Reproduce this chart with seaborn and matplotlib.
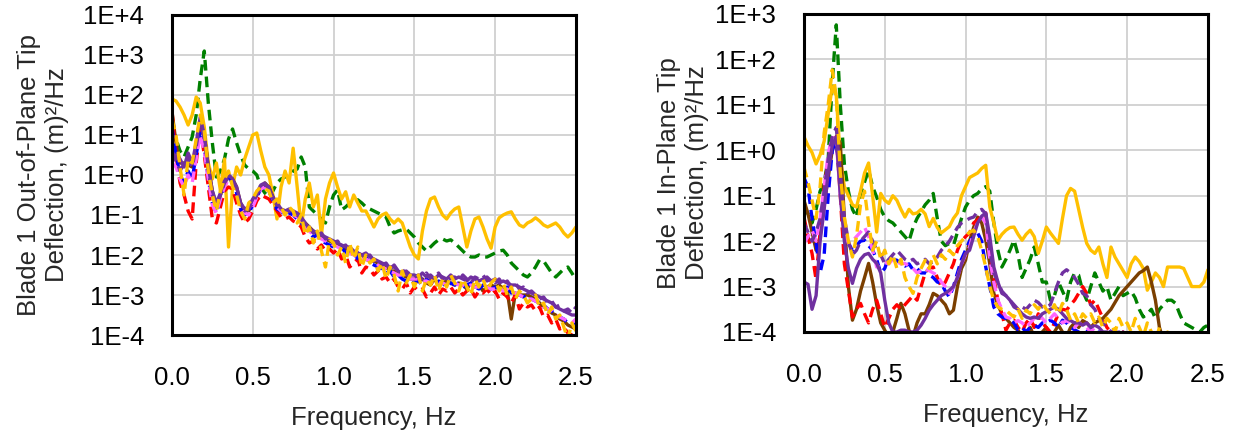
import numpy as np
import matplotlib
matplotlib.use("Agg")
import matplotlib.pyplot as plt
import seaborn as sns
from matplotlib.ticker import FixedLocator, FuncFormatter, NullLocator

nan = float("nan")

# ---------------- data (PSD values stored as log10 exponents) ----------------
freq_hz = [round(0.025 * i, 3) for i in range(101)]
x_ticks = [0.0, 0.5, 1.0, 1.5, 2.0, 2.5]

# ----- Out-of-plane (left panel) -----
oop_red_dash = [
    1.6, 0.5, -0.2, -0.5, -0.9, -1.1, 0.3, 1.2, 0.5, -0.3,
    -1.1, -1.2, -0.8, -0.4, -0.3, -0.35, -0.7, -1.0, -1.2, -1.1,
    -0.9, -0.65, -0.5, -0.55, -0.6, -0.75, -0.9, -1.05, -1.1, -1.05,
    -1.15, -1.2, -1.3, -1.55, -1.7, -1.65, -1.85, -1.75, -1.9, -1.85,
    -1.95, -1.85, -2.1, -2.0, -2.3, -2.2, -2.1, -2.45, -2.3, -2.35,
    -2.5, -2.4, -2.6, -2.55, -2.7, -2.6, -2.8, -2.85, -2.7, -2.95,
    -2.8, -2.9, -2.85, -3.05, -2.95, -2.8, -3.0, -2.85, -2.9, -2.8,
    -2.95, -2.85, -3.0, -2.9, -2.85, -3.05, -2.9, -2.95, -2.85, -3.0,
    -2.9, -3.1, -2.95, -3.05, -3.2, -3.0, -3.35, -3.2, -3.3, -3.25,
    -3.4, -3.3, -3.55, -3.5, -3.7, -3.6, -3.85, -3.8, -3.95, -4.0,
    -4.1]
oop_blue_dash = [
    1.2, 0.5, 0.0, -0.2, 0.1, -0.1, 0.5, 1.1, 0.7, -0.1,
    -0.7, -0.95, -0.6, -0.25, -0.05, -0.2, -0.45, -0.85, -1.0, -0.95,
    -0.75, -0.55, -0.35, -0.3, -0.4, -0.65, -0.85, -0.9, -1.0, -0.95,
    -1.0, -1.1, -1.2, -1.3, -1.45, -1.55, -1.5, -1.65, -1.7, -1.75,
    -1.8, -1.85, -1.8, -1.95, -2.0, -1.95, -2.1, -2.2, -2.05, -2.2,
    -2.25, -2.3, -2.35, -2.45, -2.4, -2.55, -2.5, -2.6, -2.65, -2.6,
    -2.7, -2.65, -2.75, -2.6, -2.7, -2.75, -2.65, -2.7, -2.8, -2.7,
    -2.75, -2.7, -2.8, -2.75, -2.7, -2.8, -2.85, -2.75, -2.8, -2.85,
    -2.8, -2.85, -2.9, -2.8, -2.95, -2.9, -3.0, -3.05, -3.0, -3.1,
    -3.15, -3.2, -3.25, -3.35, -3.4, -3.5, -3.55, -3.6, -3.7, -3.7,
    -3.75]
oop_green_dash = [
    1.2, 0.9, 0.6, 0.45, 0.7, 0.95, 1.5, 2.4, 3.1, 1.8,
    0.8, -0.05, 0.1, 0.4, 0.9, 1.15, 0.8, 0.5, 0.25, 0.15,
    0.1, 0.0, -0.3, -0.45, -0.55, -0.4, -0.2, -0.1, -0.05, 0.0,
    0.1, 0.15, 0.45, 0.2, -0.8, -0.9, -1.0, -1.1, -1.2, -0.8,
    -0.5, -0.37, -0.87, -0.8, -0.7, -0.65, -0.62, -0.7, -0.8, -0.85,
    -0.9, -0.95, -1.0, -1.05, -1.3, -1.45, -1.4, -1.37, -1.35, -1.45,
    -1.55, -1.7, -1.8, -1.9, -1.8, -1.7, -1.62, -1.6, -1.65, -1.62,
    -1.7, -1.8, -1.9, -2.0, -2.05, -2.05, -2.0, -2.05, -2.05, -2.0,
    -1.95, -1.9, -1.88, -2.0, -2.2, -2.3, -2.4, -2.5, -2.55, -2.45,
    -2.3, -2.12, -2.15, -2.3, -2.45, -2.55, -2.45, -2.35, -2.3, -2.45,
    -2.62]
oop_gold_solid = [
    1.9, 1.85, 1.7, 1.5, 1.25, 1.5, 1.95, 1.8, 1.2, 0.3,
    -0.1, 0.3, -0.4, 0.4, -1.8, -0.3, 0.2, 0.0, 0.4, 0.7,
    1.0, 1.05, 0.6, 0.2, 0.0, -0.5, -1.1, -0.3, 0.1, -0.2,
    0.67, -0.3, -1.3, -0.6, -0.2, -0.8, -0.5, -1.5, -0.6, -0.2,
    0.05, -0.3, -0.6, -0.42, -0.8, -0.5, -0.7, -0.9, -0.9, -1.1,
    -1.3, -1.1, -1.0, -0.95, -1.1, -1.2, -1.1, -1.2, -1.5, -1.8,
    -2.0, -2.1, -1.4, -0.9, -0.6, -0.55, -0.8, -1.0, -1.1, -0.95,
    -0.85, -0.8, -1.3, -1.8, -1.4, -1.1, -1.05, -1.3, -1.6, -1.83,
    -1.3, -1.07, -1.0, -0.95, -0.92, -1.1, -1.25, -1.3, -1.2, -1.15,
    -1.07, -1.15, -1.25, -1.3, -1.25, -1.2, -1.3, -1.45, -1.55, -1.45,
    -1.3]
oop_gold_dash = [
    1.4, 1.0, 0.2, -0.5, 0.4, 0.3, 0.9, 1.5, 1.1, 0.1,
    -0.5, -0.9, -0.4, -0.1, 0.1, -0.3, -0.5, -0.9, -1.1, -0.7,
    -0.6, -0.4, -0.3, -0.35, -0.4, -0.7, -0.6, -0.8, -1.0, -0.8,
    -0.9, -1.2, -1.0, -1.5, -1.3, -1.7, -1.4, -1.9, -2.3, -1.6,
    -1.7, -2.0, -1.8, -2.2, -1.7, -2.1, -1.8, -2.3, -2.0, -2.2,
    -2.1, -2.4, -2.2, -2.6, -2.3, -2.5, -2.9, -2.4, -2.7, -2.5,
    -2.8, -2.5, -2.9, -2.6, -2.75, -2.5, -2.9, -2.6, -2.8, -2.5,
    -2.7, -2.9, -2.6, -2.8, -3.0, -2.6, -2.8, -2.6, -2.9, -2.7,
    -2.6, -2.9, -2.7, -3.0, -2.8, -3.1, -2.9, -3.0, -3.2, -3.1,
    -3.0, -3.3, -3.2, -3.5, -3.3, -3.6, -3.5, -3.8, -4.1, -3.7,
    -3.9]
oop_brown_solid = [
    1.6, 0.8, 0.3, 0.3, 0.25, 0.2, 0.7, 1.3, 1.0, 0.2,
    -0.4, -0.8, -0.5, -0.2, 0.0, -0.1, -0.3, -0.7, -0.9, -0.9,
    -0.7, -0.5, -0.3, -0.2, -0.3, -0.55, -0.75, -0.85, -0.9, -0.9,
    -0.9, -1.0, -1.1, -1.2, -1.3, -1.4, -1.5, -1.55, -1.6, -1.65,
    -1.7, -1.75, -1.8, -1.85, -1.85, -1.95, -2.0, -2.0, -2.1, -2.15,
    -2.15, -2.2, -2.25, -2.3, -2.4, -2.4, -2.5, -2.5, -2.55, -2.6,
    -2.6, -2.65, -2.6, -2.7, -2.75, -2.6, -2.75, -2.7, -2.65, -2.7,
    -2.75, -2.7, -2.75, -2.85, -2.7, -2.8, -2.75, -2.9, -2.8, -2.75,
    -2.8, -2.75, -2.85, -2.9, -3.6, -2.95, -3.0, -3.0, -3.0, -3.05,
    -3.1, -3.2, -3.3, -3.35, -3.45, -3.5, -3.6, -3.65, -3.75, -3.8,
    -3.85]
oop_purple_solid = [
    0.3, 0.5, 0.4, 0.2, 0.55, 0.3, 0.8, 1.45, 1.0, 0.2,
    -0.4, -0.7, -0.45, -0.15, 0.0, -0.1, -0.3, -0.7, -0.85, -0.8,
    -0.6, -0.45, -0.25, -0.2, -0.35, -0.55, -0.7, -0.85, -0.9, -0.85,
    -0.9, -0.95, -1.05, -1.2, -1.35, -1.4, -1.45, -1.5, -1.55, -1.6,
    -1.65, -1.7, -1.75, -1.8, -1.8, -1.9, -1.95, -2.0, -1.95, -2.05,
    -2.1, -2.15, -2.2, -2.25, -2.3, -2.3, -2.4, -2.45, -2.4, -2.5,
    -2.5, -2.55, -2.45, -2.55, -2.5, -2.6, -2.5, -2.55, -2.6, -2.5,
    -2.6, -2.55, -2.6, -2.65, -2.55, -2.6, -2.65, -2.6, -2.55, -2.65,
    -2.6, -2.7, -2.65, -2.7, -2.75, -2.75, -2.8, -2.85, -2.9, -2.95,
    -3.0, -3.05, -3.1, -3.15, -3.2, -3.3, -3.35, -3.4, -3.45, -3.5,
    -3.5]
oop_purple_dash = [
    0.6, 0.4, 0.1, 0.3, 0.4, 0.2, 0.7, 1.35, 0.9, 0.1,
    -0.5, -0.8, -0.5, -0.2, -0.05, -0.15, -0.35, -0.75, -0.9, -0.85,
    -0.7, -0.5, -0.3, -0.25, -0.3, -0.6, -0.75, -0.8, -0.95, -0.9,
    -0.95, -1.0, -1.1, -1.25, -1.3, -1.45, -1.5, -1.45, -1.6, -1.55,
    -1.7, -1.65, -1.8, -1.75, -1.9, -1.85, -1.95, -2.0, -2.05, -2.0,
    -2.15, -2.1, -2.25, -2.2, -2.35, -2.25, -2.4, -2.35, -2.5, -2.45,
    -2.55, -2.5, -2.6, -2.45, -2.6, -2.55, -2.45, -2.6, -2.5, -2.6,
    -2.55, -2.65, -2.5, -2.6, -2.7, -2.55, -2.6, -2.5, -2.65, -2.6,
    -2.7, -2.6, -2.75, -2.65, -2.8, -2.7, -2.85, -2.8, -2.95, -2.9,
    -3.0, -3.1, -3.05, -3.2, -3.15, -3.3, -3.25, -3.4, -3.35, -3.45,
    -3.3]
oop_pink_dash = [
    0.3, 0.2, -0.1, -0.3, 0.0, -0.2, 0.4, 1.0, 0.6, -0.1,
    -0.75, -0.95, -0.6, -0.3, -0.1, -0.15, -0.45, -0.85, -0.95, -1.0,
    -0.8, -0.55, -0.35, -0.3, -0.35, -0.6, -0.8, -0.9, -0.95, -0.95,
    -1.0, -1.05, -1.15, -1.3, -1.4, -1.5, -1.55, -1.6, -1.65, -1.7,
    -1.75, -1.8, -1.85, -1.9, -1.95, -2.0, -2.05, -2.1, -2.1, -2.15,
    -2.2, -2.25, -2.3, -2.35, -2.4, -2.45, -2.5, -2.5, -2.55, -2.6,
    -2.6, -2.6, -2.65, -2.65, -2.7, -2.65, -2.7, -2.7, -2.75, -2.7,
    -2.7, -2.75, -2.75, -2.8, -2.75, -2.8, -2.8, -2.85, -2.8, -2.85,
    -2.85, -2.8, -2.9, -2.85, -2.95, -2.95, -3.0, -3.05, -3.1, -3.1,
    -3.15, -3.2, -3.3, -3.35, -3.4, -3.5, -3.55, -3.6, -3.65, -3.7,
    -3.6]

# ----- In-plane (right panel) -----
ip_red_dash = [
    -1.47, -1.9, -2.27, -2.85, -1.8, -0.8, -0.22, 0.1, 0.3, -1.0,
    -2.5, -3.08, -3.67, -3.5, -3.37, -3.6, -3.8, -3.5, -3.3, -3.6,
    -3.9, -3.7, -3.5, -3.4, -3.5, -3.4, -3.3, -3.2, -3.3, -3.0,
    -2.7, -2.6, -2.57, -2.8, -3.0, -2.9, -2.7, -2.5, -2.2, -2.0,
    -1.9, -1.82, -1.6, -1.53, -1.45, -1.38, -2.27, -2.8, -3.3, -3.6,
    -3.96, -3.8, -3.74, -3.9, -4.0, -3.8, -3.7, -3.9, -3.6, -3.8,
    -3.9, -4.0, -3.8, -3.6, -3.5, -3.52, -3.4, -3.3, -3.15, -3.0,
    -3.15, -3.4, -3.3, -3.5, -3.7, -3.9, -4.0, -4.1, -4.2, -4.0,
    -4.2, -4.3, -4.2, -4.4, -4.3, -4.4, -4.5, -4.4, -4.5, -4.5,
    -4.5, -4.5, -4.5, -4.5, -4.5, -4.5, -4.5, -4.5, -4.5, -4.5,
    -4.5]
ip_blue_dash = [
    -0.6, -0.82, -1.5, -2.05, -2.7, -2.3, -1.0, 0.0, 0.22, -0.8,
    -1.6, -2.05, -2.2, -2.1, -2.0, -1.98, -2.1, -2.2, -2.4, -2.7,
    -2.6, -2.35, -2.4, -2.42, -2.5, -2.55, -2.5, -2.63, -2.6, -2.7,
    -2.7, -2.75, -2.8, -2.9, -2.93, -3.1, -3.23, -3.0, -2.7, -2.4,
    -2.2, -2.0, -1.9, -1.82, -2.0, -2.57, -3.0, -3.45, -3.6, -3.67,
    -3.7, -3.74, -3.8, -3.96, -3.9, -4.0, -3.9, -3.85, -3.9, -3.8,
    -3.8, -3.74, -3.8, -3.9, -3.74, -3.8, -3.9, -3.95, -4.0, -4.1,
    -4.0, -3.9, -4.1, -4.0, -4.2, -4.1, -4.2, -4.3, -4.2, -4.3,
    -4.3, -4.4, -4.3, -4.4, -4.5, -4.4, -4.5, -4.5, -4.5, -4.5,
    -4.5, -4.5, -4.5, -4.5, -4.5, -4.5, -4.5, -4.5, -4.5, -4.5,
    -4.5]
ip_green_dash = [
    -1.2, -1.4, -1.6, -1.3, -0.9, -0.7, -0.2, 1.5, 2.76, 1.0,
    -0.3, -0.9, -1.3, -1.47, -0.95, -0.7, -0.44, -0.8, -1.03, -1.3,
    -1.47, -1.55, -1.6, -1.7, -1.8, -1.9, -2.0, -1.7, -1.5, -1.35,
    -1.2, -1.1, -0.95, -1.5, -2.0, -2.1, -2.05, -2.1, -1.8, -1.5,
    -1.25, -1.1, -1.0, -0.95, -0.85, -0.8, -0.9, -1.6, -2.2, -2.57,
    -2.4, -2.2, -1.98, -2.3, -2.8, -2.6, -2.4, -2.13, -2.5, -2.9,
    -2.9, -3.3, -3.2, -2.9, -3.1, -3.3, -2.9, -2.7, -2.75, -3.1,
    -3.3, -3.0, -2.7, -2.9, -3.1, -3.0, -3.3, -3.15, -3.0, -3.2,
    -3.15, -3.1, -3.25, -3.5, -3.67, -3.6, -3.5, -3.7, -3.5, -3.4,
    -3.3, -3.3, -3.37, -3.6, -3.8, -3.85, -3.9, -3.95, -4.0, -3.9,
    -3.85]
ip_gold_solid = [
    0.3, 0.1, -0.05, -0.3, -0.1, 0.2, 0.8, 1.4, 1.2, -0.2,
    -0.8, -1.0, -1.2, -1.25, -0.9, -0.5, -0.28, -1.0, -1.8, -0.95,
    -1.1, -1.17, -1.0, -1.1, -1.3, -1.47, -1.3, -1.4, -1.38, -1.3,
    -1.4, -1.68, -1.5, -1.7, -1.82, -1.75, -1.68, -1.5, -1.38, -1.0,
    -0.8, -0.6, -0.55, -0.5, -0.4, -0.33, -1.25, -1.6, -1.98, -1.85,
    -1.76, -1.7, -1.69, -1.85, -1.98, -1.85, -1.76, -1.9, -2.27, -2.0,
    -1.69, -1.82, nan, -2.05, -1.5, -1.0, -0.84, -0.9, -1.3, -1.7,
    -2.05, -2.2, -2.27, -2.13, -2.5, -2.8, -2.13, -2.35, nan, nan,
    -2.8, -2.5, -2.35, -2.45, -2.6, -3.08, -2.9, -2.7, -2.8, -3.0,
    -2.57, -2.57, -2.57, -2.57, -2.6, -2.8, -3.0, -3.0, -3.0, -2.9,
    -2.63]
ip_gold_dash = [
    -0.37, -0.7, -1.1, -1.5, -0.8, 0.38, 1.0, 1.77, 1.2, -0.5,
    -1.47, -2.0, -2.35, -1.9, -1.2, -0.9, -1.6, -2.2, -2.0, -2.4,
    -2.2, -2.5, -2.3, -2.6, -2.4, -2.8, -3.0, -3.15, -2.8, -2.6,
    -2.42, -2.6, -2.3, -2.5, -2.3, -2.4, -2.2, -2.3, -2.1, -2.0,
    -1.9, -1.8, -1.76, -1.9, -2.2, -2.57, -3.0, -3.3, -3.45, -3.5,
    -3.52, -3.6, -3.67, -3.5, -3.7, -3.52, -3.6, -3.4, -3.5, -3.37,
    -3.5, -3.6, -3.4, -3.6, -3.37, -3.5, -3.74, -3.6, -3.8, -3.6,
    -3.7, -3.6, -3.8, -3.67, -3.9, -3.7, -3.8, -4.0, -3.7, -3.9,
    -3.8, -4.0, -3.7, -3.9, -4.1, -3.8, -4.0, -4.2, -3.9, -4.1,
    -4.0, -4.2, -4.1, -4.3, -4.2, -4.4, -4.3, -4.5, -4.4, -4.5,
    -4.5]
ip_brown_solid = [
    -1.1, -1.4, -1.8, -2.2, -1.9, -1.2, -0.6, 0.0, 0.3, 0.16,
    -1.5, -3.0, -3.74, -3.5, -3.1, -2.8, -2.49, -2.9, -3.4, -3.8,
    -3.96, -4.1, -4.0, -3.7, -3.37, -3.6, -3.96, -4.1, -3.8, -3.6,
    -3.6, -3.4, -3.15, -3.2, -3.3, -3.4, -3.6, -3.52, -3.0, -2.6,
    -2.42, -2.0, -1.7, -1.47, -1.6, -1.98, -2.5, -3.15, -3.4, -3.6,
    -3.7, -3.8, -3.9, -3.96, -4.1, -4.0, -3.9, -4.1, -4.2, -4.0,
    -3.9, -4.1, -4.0, -3.85, -4.0, -4.1, -3.9, -3.8, -3.9, -3.75,
    -3.8, -3.9, -3.8, -3.75, -3.7, -3.6, -3.5, -3.35, -3.2, -3.1,
    -3.0, -2.9, -2.8, -2.7, -2.65, -2.57, -2.9, -3.3, -3.9, -4.2,
    -4.3, -4.2, -4.4, -4.3, -4.5, -4.4, -4.3, -4.5, -4.4, -4.5,
    -4.5]
ip_purple_solid = [
    -2.9, -2.95, -3.5, -3.2, -2.0, -1.3, -0.5, 0.1, 0.3, -1.0,
    -2.0, -2.6, -2.93, -2.6, -2.4, -2.3, -2.27, -2.4, -2.49, -2.7,
    -3.3, -3.8, -4.0, -4.0, -3.96, -3.96, -4.0, -4.0, -3.96, -3.85,
    -3.7, -3.52, -3.4, -3.3, -3.2, -3.15, -3.08, -3.0, -2.8, -2.5,
    -2.27, -2.2, -1.9, -1.6, -1.45, -1.38, -1.9, -2.57, -2.9, -3.15,
    -3.2, -3.3, -3.45, -3.5, -3.6, -3.67, -3.7, -3.67, -3.7, -3.6,
    -3.55, -3.5, -3.45, -3.5, -3.6, -3.7, -3.75, -3.8, -3.8, -3.85,
    -3.8, -3.9, -3.85, -3.9, -4.0, -4.0, -4.05, -4.1, -4.0, -4.1,
    -4.2, -4.1, -4.2, -4.3, -4.2, -4.3, -4.2, -4.3, -4.4, -4.3,
    -4.3, -4.4, -4.3, -4.4, -4.5, -4.4, -4.5, -4.4, -4.5, -4.5,
    -4.5]
ip_purple_dash = [
    -1.6, -1.8, -2.0, -1.8, -1.5, -0.9, -0.2, 0.3, 0.5, -0.5,
    -1.5, -2.0, -2.3, -2.2, -2.0, -1.9, -1.8, -2.0, -2.2, -2.3,
    -2.5, -2.4, -2.3, -2.2, -2.3, -2.4, -2.45, -2.4, -2.5, -2.45,
    -2.4, -2.5, -2.45, -2.35, -2.2, -2.1, -2.0, -1.85, -1.7, -1.6,
    -1.55, -1.5, -1.47, -1.35, -1.3, -1.4, -2.2, -2.7, -2.9, -3.1,
    -3.2, -3.3, -3.4, -3.5, -3.45, -3.5, -3.4, -3.3, -3.35, -3.45,
    -3.45, -3.4, -3.15, -2.9, -2.7, -2.63, -2.7, -2.8, -2.95, -3.15,
    -3.2, -3.4, -3.5, -3.7, -3.8, -3.9, -4.0, -3.95, -4.1, -4.0,
    -4.1, -4.2, -4.1, -4.2, -4.3, -4.2, -4.3, -4.2, -4.3, -4.4,
    -4.3, -4.4, -4.3, -4.5, -4.4, -4.5, -4.4, -4.5, -4.5, -4.5,
    -4.5]
ip_pink_dash = [
    -2.05, -1.9, -1.76, -2.0, -1.5, -0.8, -0.07, 0.3, 0.2, -1.0,
    -1.8, -2.05, -2.0, -1.9, -1.8, -1.69, -1.9, -2.2, -2.57, -2.5,
    -2.47, -2.5, -2.4, -2.45, -2.5, -2.49, -2.55, -2.6, -2.7, -2.65,
    -2.6, -2.65, -2.7, -2.75, -2.9, -3.0, -3.15, -3.0, -2.8, -2.5,
    -2.3, -2.13, -1.8, -1.6, -1.47, -1.6, -2.4, -2.9, -3.3, -3.5,
    -3.67, -3.7, -3.8, -3.75, -3.8, -3.9, -3.8, -3.7, -3.6, -3.7,
    -3.8, -3.7, -3.6, -3.7, -3.8, -3.75, -3.8, -3.9, -3.8, -3.85,
    -3.9, -4.0, -3.9, -4.1, -4.0, -4.1, -4.2, -4.1, -4.3, -4.2,
    -4.3, -4.3, -4.4, -4.3, -4.4, -4.5, -4.4, -4.5, -4.5, -4.5,
    -4.5, -4.5, -4.5, -4.5, -4.5, -4.5, -4.5, -4.5, -4.5, -4.5,
    -4.5]

# order: (key, colour, dashed)
series_style = [
    ("green_dash", "#008000", True),
    ("gold_solid", "#FFC000", False),
    ("brown_solid", "#7B3F00", False),
    ("red_dash", "#FF0000", True),
    ("blue_dash", "#0000FF", True),
    ("pink_dash", "#FF66FF", True),
    ("purple_solid", "#7030A0", False),
    ("purple_dash", "#7030A0", True),
    ("gold_dash", "#FFC000", True),
]

oop = {
    "red_dash": oop_red_dash, "blue_dash": oop_blue_dash,
    "green_dash": oop_green_dash, "gold_solid": oop_gold_solid,
    "gold_dash": oop_gold_dash, "brown_solid": oop_brown_solid,
    "purple_solid": oop_purple_solid, "purple_dash": oop_purple_dash,
    "pink_dash": oop_pink_dash,
}
ip = {
    "red_dash": ip_red_dash, "blue_dash": ip_blue_dash,
    "green_dash": ip_green_dash, "gold_solid": ip_gold_solid,
    "gold_dash": ip_gold_dash, "brown_solid": ip_brown_solid,
    "purple_solid": ip_purple_solid, "purple_dash": ip_purple_dash,
    "pink_dash": ip_pink_dash,
}

# ---------------- plotting ----------------
sns.set_style("white")
plt.rcParams["font.family"] = ["Liberation Sans", "DejaVu Sans"]
plt.rcParams["font.size"] = 18

fig = plt.figure(figsize=(12.38, 4.37), dpi=100)
ax_l = fig.add_axes([0.1389, 0.2334, 0.3263, 0.7323])
ax_r = fig.add_axes([0.6494, 0.2403, 0.3263, 0.7277])

freq = np.array(freq_hz)


def draw(ax, data, ylo, yhi, ylabel, label_x):
    for key, color, dashed in series_style:
        vals = 10.0 ** np.array(data[key], dtype=float)
        ls = (0, (3.2, 1.8)) if dashed else "-"
        sns.lineplot(x=freq, y=vals, ax=ax, color=color, lw=2.4,
                     linestyle=ls, errorbar=None, sort=False, estimator=None)
    ax.set_yscale("log")
    ax.set_xlim(0, 2.5)
    ax.set_ylim(10.0 ** ylo, 10.0 ** yhi)
    ax.xaxis.set_major_locator(FixedLocator(x_ticks))
    ax.xaxis.set_major_formatter(FuncFormatter(lambda v, p: f"{v:.1f}"))
    ax.yaxis.set_major_locator(FixedLocator([10.0 ** k for k in range(ylo, yhi + 1)]))
    ax.yaxis.set_minor_locator(NullLocator())
    ax.yaxis.set_major_formatter(FuncFormatter(
        lambda v, p: f"1E{int(round(np.log10(v))):+d}"))
    ax.grid(True, color="#D0D0D0", lw=1.3)
    ax.set_axisbelow(True)
    for s in ax.spines.values():
        s.set_color("black")
        s.set_linewidth(2.2)
        s.set_visible(True)
    ax.tick_params(axis="both", length=0, labelsize=18.5, colors="black")
    ax.tick_params(axis="y", pad=20)
    ax.tick_params(axis="x", pad=22)
    ax.set_xlabel("Frequency, Hz", fontsize=18.5, labelpad=12)
    ax.set_ylabel(ylabel, fontsize=18.5, linespacing=1.2)
    ax.yaxis.set_label_coords(label_x, 0.5)


draw(ax_l, oop, -4, 4, "Blade 1 Out-of-Plane Tip\nDeflection, (m)²/Hz", -0.255)
draw(ax_r, ip, -4, 3, "Blade 1 In-Plane Tip\nDeflection, (m)²/Hz", -0.235)

fig.savefig("out.png", dpi=100)
